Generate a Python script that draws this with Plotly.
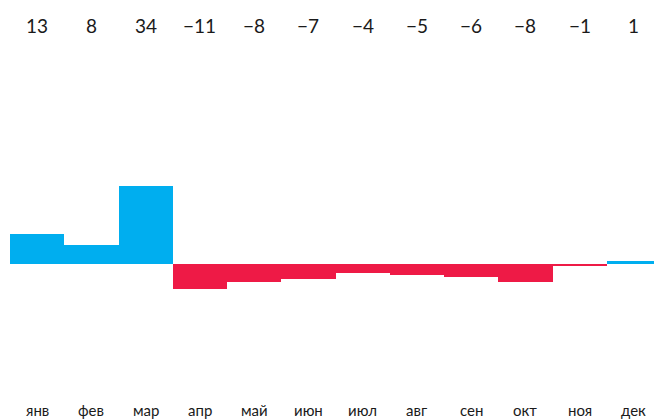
import plotly.graph_objects as go

months = ["янв", "фев", "мар", "апр", "май", "июн", "июл", "авг", "сен", "окт", "ноя", "дек"]
values = [13, 8, 34, -11, -8, -7, -4, -5, -6, -8, -1, 1]
labels = ["13", "8", "34", "−11", "−8", "−7", "−4", "−5", "−6", "−8", "−1", "1"]

BLUE = "#00AEEF"
RED = "#EE1A46"
colors = [BLUE if v >= 0 else RED for v in values]

W, H = 654, 419
ml, mr, mt, mb = 10, 0, 50, 29
ph = H - mt - mb

fig = go.Figure(go.Bar(
    x=list(range(len(months))), y=values,
    marker=dict(color=colors, line=dict(width=0)),
    hoverinfo="skip",
))

annotations = []
for i, (m, t) in enumerate(zip(months, labels)):
    annotations.append(dict(x=i, y=1 + 25 / ph, xref="x", yref="paper", text=t,
                            showarrow=False, yanchor="middle", xanchor="center",
                            font=dict(family="Lato", size=19, color="#1a1a1a")))
    annotations.append(dict(x=i, y=-20 / ph, xref="x", yref="paper", text=m,
                            showarrow=False, yanchor="middle", xanchor="center",
                            font=dict(family="Lato", size=15, color="#1a1a1a")))

fig.update_layout(
    width=W, height=H,
    margin=dict(l=ml, r=mr, t=mt, b=mb),
    paper_bgcolor="white", plot_bgcolor="white",
    bargap=0,
    showlegend=False,
    annotations=annotations,
    xaxis=dict(range=[-0.5, 11.371], showgrid=False, zeroline=False, showticklabels=False,
               showline=False, fixedrange=True),
    yaxis=dict(range=[-55.7, 94.05], showgrid=False, zeroline=False, showticklabels=False,
               showline=False, fixedrange=True),
)

fig.write_html("out.html", config={"displayModeBar": False},
               post_script="document.body.style.margin='0';document.body.style.overflow='hidden';")
